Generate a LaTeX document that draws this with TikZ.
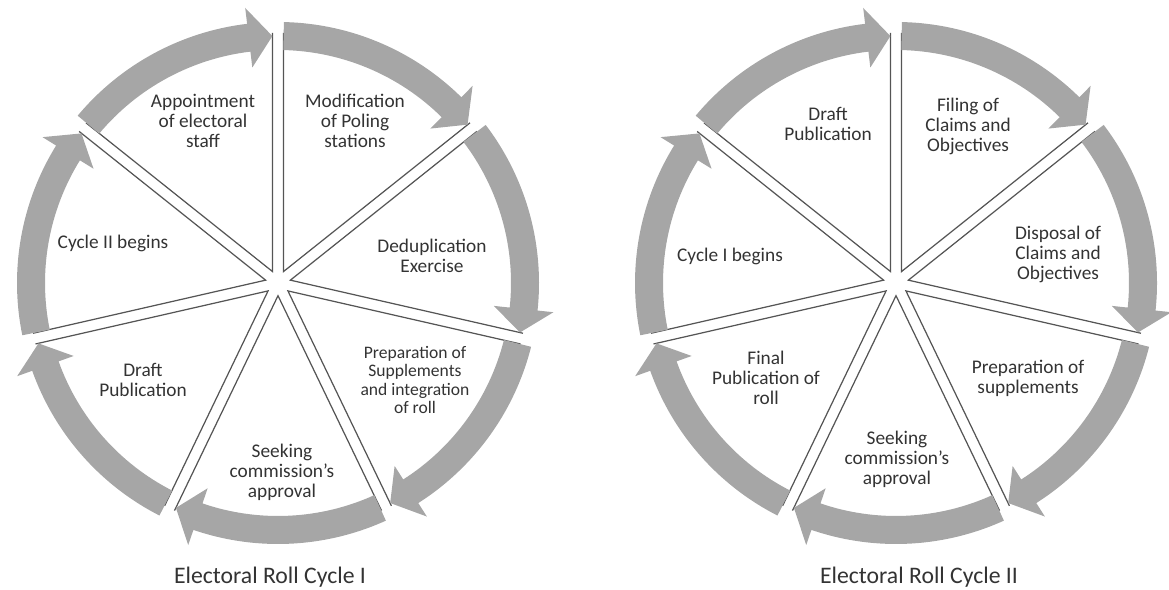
\documentclass[tikz,border=0pt]{standalone}
\usepackage{fontspec}
\setmainfont{Carlito}
\usepackage{xcolor}
\usetikzlibrary{calc}
\definecolor{ringgray}{HTML}{A6A6A6}
\definecolor{linegray}{HTML}{555555}
\definecolor{textgray}{HTML}{333333}

\begin{document}
\begin{tikzpicture}[x=0.02cm, y=0.02cm,
    sep/.style={draw=linegray, line width=0.7pt, line join=miter},
    ringarrow/.style={fill=ringgray},
    stage/.style={align=center, text=textgray, font=\fontsize{11}{11.4}\selectfont},
    smallstage/.style={stage, font=\fontsize{10}{10.3}\selectfont},
    title/.style={text=textgray, font=\fontsize{13.5}{16}\selectfont}]
    \useasboundingbox (0,0) rectangle (1169,590);

    % Hubs
    \coordinate (hubI) at (278,307);
    \coordinate (hubII) at (896,307);

    % Wedges and ring arrows
    \foreach \hub in {hubI, hubII} {
        \foreach \i in {0,...,6} {
            \pgfmathsetmacro{\a}{90-\i*360/7}
            \pgfmathsetmacro{\b}{\a-360/7}
            \pgfmathsetmacro{\m}{\a-180/7}
            \draw[sep] ($(\hub)+(\a:250)+({\a-90}:5.5)$) -- ($(\hub)+(\m:12.7)$)
                -- ($(\hub)+(\b:250)+({\b+90}:5.5)$);
            \fill[ringarrow] ($(\hub)+({\a-1.3}:261)$)
                arc[start angle=\a-1.3, end angle=\b+6.8, radius=261]
                -- ($(\hub)+({\b+6.8}:277)$) -- ($(\hub)+({\b+1.3}:247)$)
                -- ($(\hub)+({\b+6.8}:217)$) -- ($(\hub)+({\b+6.8}:233)$)
                arc[start angle=\b+6.8, end angle=\a-1.3, radius=233] -- cycle;
        }
    }

    % Nodes, cycle I
    \node[stage] (apptI) at (203,469) {Appointment\\of electoral\\staff};
    \node[stage] (modI) at (355,469) {Modification\\of Poling\\stations};
    \node[stage] (dedupI) at (432,334) {Deduplication\\Exercise};
    \node[smallstage] (prepI) at (415,210) {Preparation of\\Supplements\\and integration\\of roll};
    \node[stage] (seekI) at (282,118) {Seeking\\commission’s\\approval};
    \node[stage] (draftI) at (143,210) {Draft\\Publication};
    \node[stage] (beginI) at (113,347) {Cycle II begins};
    \node[title] (capI) at (270,13) {Electoral Roll Cycle I};

    % Nodes, cycle II
    \node[stage] (draftII) at (828,466) {Draft\\Publication};
    \node[stage] (fileII) at (968,464) {Filing of\\Claims and\\Objectives};
    \node[stage] (dispII) at (1058,336) {Disposal of\\Claims and\\Objectives};
    \node[stage] (prepII) at (1028,212) {Preparation of\\supplements};
    \node[stage] (seekII) at (897,131) {Seeking\\commission’s\\approval};
    \node[stage] (finalII) at (766,212) {Final\\Publication of\\roll};
    \node[stage] (beginII) at (730,334) {Cycle I begins};
    \node[title] (capII) at (919,13) {Electoral Roll Cycle II};
\end{tikzpicture}
\end{document}
